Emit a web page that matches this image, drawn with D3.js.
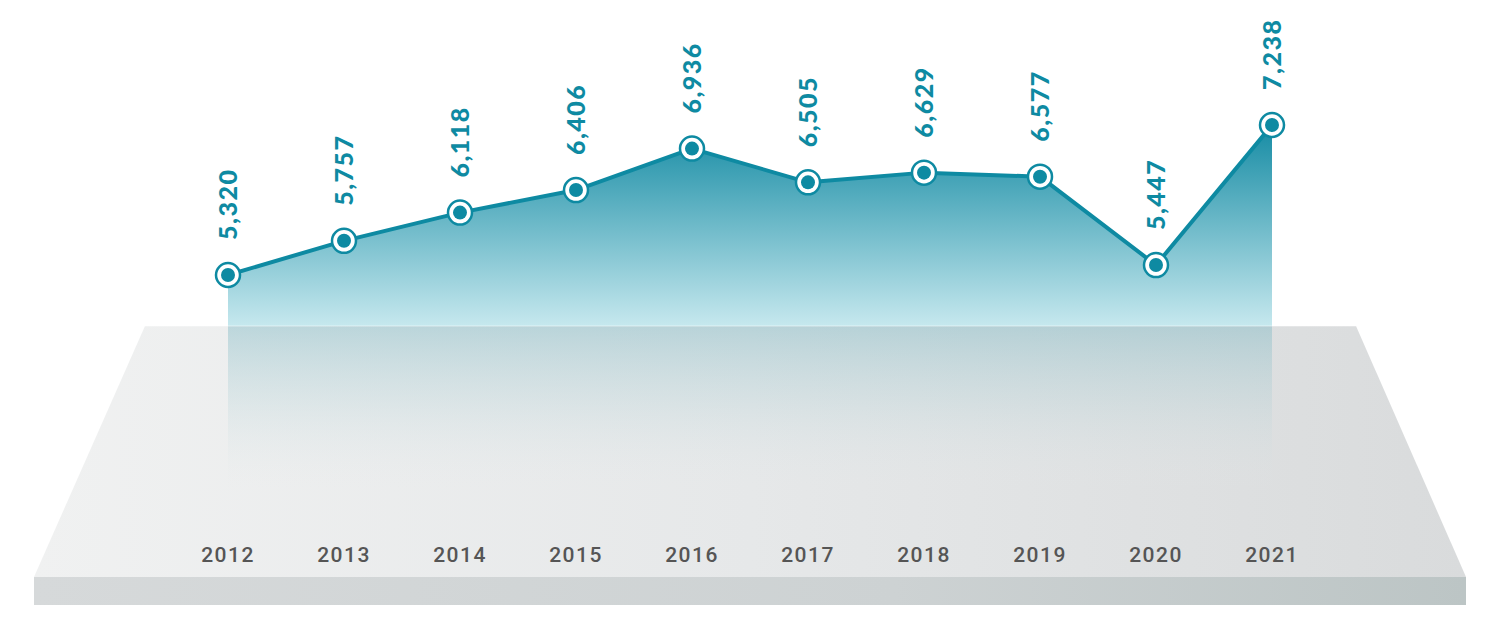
<!DOCTYPE html>
<html>
<head>
<meta charset="utf-8">
<script src="https://cdn.jsdelivr.net/npm/d3@7"></script>
<style>
  body { margin: 0; background: #fff; }
  svg { display: block; }
</style>
</head>
<body>
<script>
var years = ["2012", "2013", "2014", "2015", "2016", "2017", "2018", "2019", "2020", "2021"];
var values = [5320, 5757, 6118, 6406, 6936, 6505, 6629, 6577, 5447, 7238];

var width = 1500, height = 639;
var teal = "#0e8aa2";

var svg = d3.select("body").append("svg")
    .attr("width", width)
    .attr("height", height);

var defs = svg.append("defs");

// scales
var x = d3.scalePoint()
    .domain(years)
    .range([228, 1272]);

var y = d3.scaleLinear()
    .domain([5320, 7238])
    .range([275, 125]);

var platTop = 326, platBottom = 577, fadeBottom = 492;

// platform gradient (left light -> right darker)
var gPlat = defs.append("linearGradient").attr("id", "plat")
    .attr("x1", "0").attr("x2", "1").attr("y1", "0").attr("y2", "0");
gPlat.append("stop").attr("offset", "0").attr("stop-color", "#f0f1f1");
gPlat.append("stop").attr("offset", "0.5").attr("stop-color", "#e6e8e9");
gPlat.append("stop").attr("offset", "1").attr("stop-color", "#d9dbdc");

var gFront = defs.append("linearGradient").attr("id", "front")
    .attr("x1", "0").attr("x2", "1").attr("y1", "0").attr("y2", "0");
gFront.append("stop").attr("offset", "0").attr("stop-color", "#d6d9da");
gFront.append("stop").attr("offset", "0.6").attr("stop-color", "#cdd2d3");
gFront.append("stop").attr("offset", "1").attr("stop-color", "#bcc5c5");

// area gradient
var gArea = defs.append("linearGradient").attr("id", "areaGrad")
    .attr("gradientUnits", "userSpaceOnUse")
    .attr("x1", 0).attr("x2", 0).attr("y1", 120).attr("y2", fadeBottom);
var off = function(v) { return (v - 120) / (fadeBottom - 120); };
gArea.append("stop").attr("offset", 0).attr("stop-color", "#1189a2");
gArea.append("stop").attr("offset", off(platTop)).attr("stop-color", "#c6e8ee");
gArea.append("stop").attr("offset", off(platTop)).attr("stop-color", "#7fb9c4").attr("stop-opacity", 0.45);
gArea.append("stop").attr("offset", off(400)).attr("stop-color", "#a9cdd3").attr("stop-opacity", 0.25);
gArea.append("stop").attr("offset", 1).attr("stop-color", "#e8eced").attr("stop-opacity", 0);

// platform
svg.append("path")
    .attr("d", "M145," + platTop + " L1356," + platTop + " L1466," + platBottom + " L34," + platBottom + " Z")
    .attr("fill", "url(#plat)");

svg.append("rect")
    .attr("x", 34).attr("y", platBottom)
    .attr("width", 1432).attr("height", 28)
    .attr("fill", "url(#front)");

// area
var area = d3.area()
    .x(function(d, i) { return x(years[i]); })
    .y0(fadeBottom)
    .y1(function(d) { return y(d); });

svg.append("path")
    .datum(values)
    .attr("d", area)
    .attr("fill", "url(#areaGrad)");

// thin highlight along platform top edge
svg.append("line")
    .attr("x1", 145).attr("x2", 1356)
    .attr("y1", platTop).attr("y2", platTop)
    .attr("stroke", "#ffffff").attr("stroke-opacity", 0.5).attr("stroke-width", 1);

// line
var line = d3.line()
    .x(function(d, i) { return x(years[i]); })
    .y(function(d) { return y(d); });

svg.append("path")
    .datum(values)
    .attr("d", line)
    .attr("fill", "none")
    .attr("stroke", teal)
    .attr("stroke-width", 4)
    .attr("stroke-linejoin", "round");

// markers
var pts = svg.selectAll(".pt")
    .data(values)
  .enter().append("g")
    .attr("class", "pt")
    .attr("transform", function(d, i) { return "translate(" + x(years[i]) + "," + y(d) + ")"; });

pts.append("circle")
    .attr("r", 12)
    .attr("fill", "#fff")
    .attr("stroke", teal)
    .attr("stroke-width", 2.5);

pts.append("circle")
    .attr("r", 7)
    .attr("fill", teal);

// value labels, rotated
var fmt = d3.format(",");
pts.append("text")
    .attr("transform", "translate(9,-35) rotate(-90)")
    .attr("text-anchor", "start")
    .attr("font-family", "Lato, 'Open Sans', sans-serif")
    .attr("font-weight", 900)
    .attr("font-size", 25)
    .attr("letter-spacing", 1.5)
    .attr("fill", teal)
    .text(function(d) { return fmt(d); });

// year labels
svg.selectAll(".yr")
    .data(years)
  .enter().append("text")
    .attr("class", "yr")
    .attr("x", function(d) { return x(d); })
    .attr("y", 562)
    .attr("text-anchor", "middle")
    .attr("font-family", "Roboto, Lato, sans-serif")
    .attr("font-weight", 500)
    .attr("font-size", 21)
    .attr("letter-spacing", 1.5)
    .attr("fill", "#555555")
    .text(function(d) { return d; });
</script>
</body>
</html>
